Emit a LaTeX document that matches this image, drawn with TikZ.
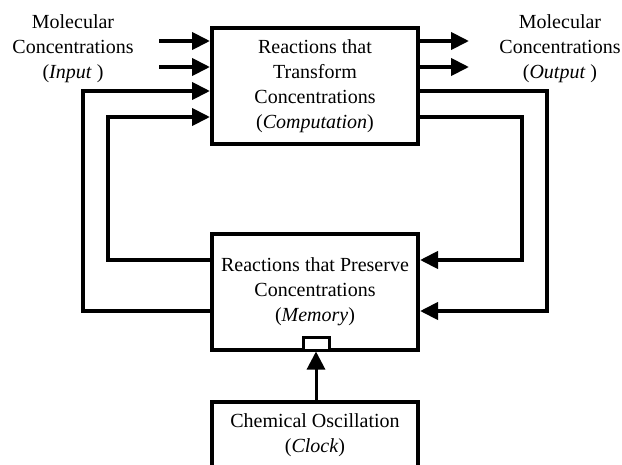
\documentclass[tikz,border=0pt]{standalone}
\usepackage{fontspec}
\setmainfont{Liberation Serif}
\usetikzlibrary{arrows.meta}
\begin{document}
\begin{tikzpicture}[x=1pt,y=-1pt,
  box/.style={draw,line width=4pt,rectangle,minimum width=206pt,inner sep=0pt,align=center,font=\fontsize{20}{25}\selectfont},
  lbl/.style={inner sep=0pt,align=center,font=\fontsize{20}{25}\selectfont},
  arr/.style={line width=4pt,-{Triangle[length=18pt,width=17pt]}},
  thinarr/.style={line width=3pt,-{Triangle[length=18pt,width=18pt]}},
  latchbox/.style={draw,line width=3pt,rectangle,fill=white,minimum width=26pt,minimum height=13pt,inner sep=0pt}]
\useasboundingbox (0,0) rectangle (622,464);

% boxes
\node[box,minimum height=116pt] (comp) at (315,86) {Reactions that\\Transform\\Concentrations\\(\textit{Computation})};
\node[box,minimum height=116pt] (mem) at (315,292) {Reactions that Preserve\\Concentrations\\(\textit{Memory})};
\node[box,minimum height=66pt] (clock) at (315,435) {Chemical Oscillation\\(\textit{Clock})};
\node[latchbox] (latch) at (316,343.5) {};

% labels
\node[lbl] (inlbl) at (73,49) {Molecular\\Concentrations\\(\textit{Input} )};
\node[lbl] (outlbl) at (560,49) {Molecular\\Concentrations\\(\textit{Output} )};

% coordinates
\coordinate (in1) at (159,41);
\coordinate (in2) at (159,67);
\coordinate (out1) at (469,41);
\coordinate (out2) at (469,67);
\coordinate (LO1) at (83,311);
\coordinate (LO2) at (83,91);
\coordinate (LI1) at (108,260);
\coordinate (LI2) at (108,117);
\coordinate (RO1) at (547,91);
\coordinate (RO2) at (547,311);
\coordinate (RI1) at (522,117);
\coordinate (RI2) at (522,260);

% input / output arrows
\draw[arr] (in1) -- (in1 -| comp.west);
\draw[arr] (in2) -- (in2 -| comp.west);
\draw[arr] (out1 -| comp.east) -- (out1);
\draw[arr] (out2 -| comp.east) -- (out2);

% feedback loops
\draw[arr] (mem.west |- LO1) -- (LO1) -- (LO2) -- (comp.west |- LO2);
\draw[arr] (mem.west |- LI1) -- (LI1) -- (LI2) -- (comp.west |- LI2);
\draw[arr] (comp.east |- RO1) -- (RO1) -- (RO2) -- (mem.east |- RO2);
\draw[arr] (comp.east |- RI1) -- (RI1) -- (RI2) -- (mem.east |- RI2);

% clock
\draw[thinarr] (clock.north -| latch.center) -- (latch.south);
\end{tikzpicture}
\end{document}
